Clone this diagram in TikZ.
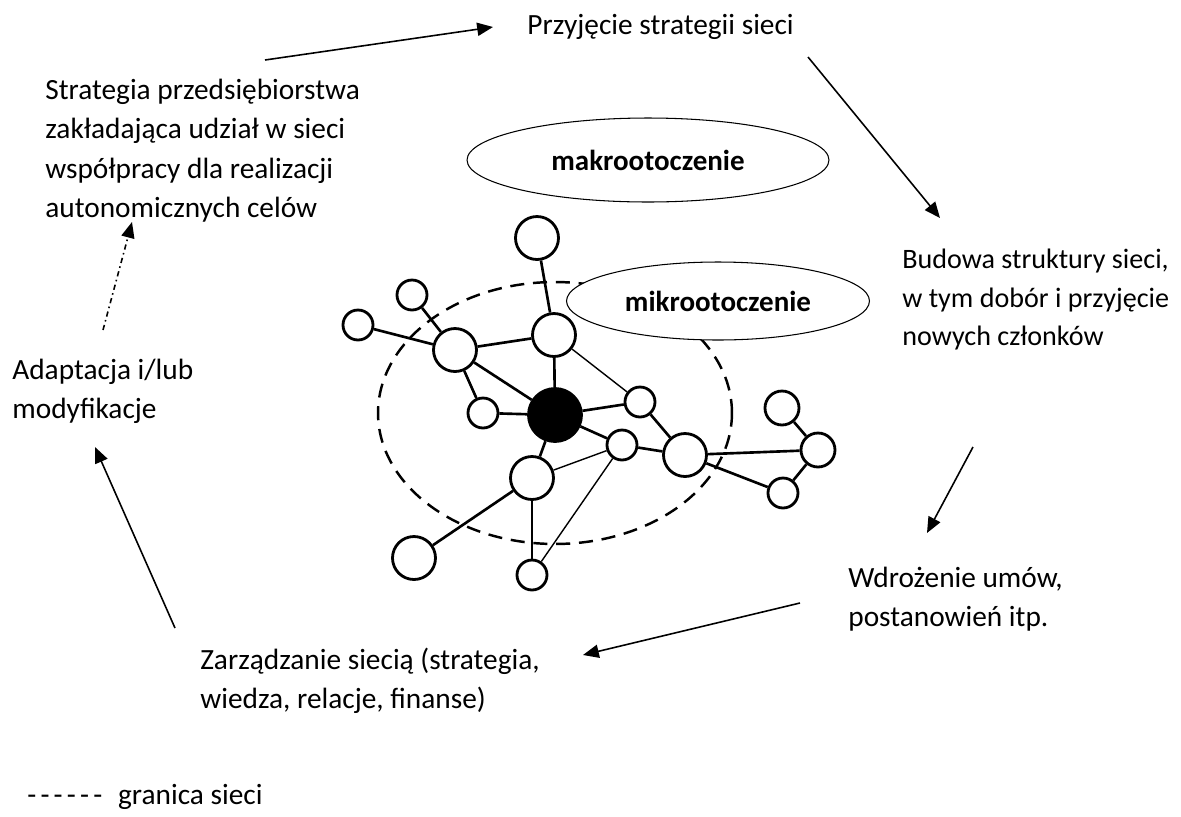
\documentclass[tikz,border=0pt]{standalone}
\usepackage{fontspec}
\setmainfont{Carlito}
\usetikzlibrary{arrows.meta,shapes.geometric}

\tikzset{
    txt/.style={anchor=north west, align=left, inner sep=0pt, font=\fontsize{16.7}{22.3}\selectfont},
    env/.style={ellipse, draw, fill=white, line width=0.6pt, inner sep=0pt, font=\fontsize{16.5}{18}\selectfont\bfseries},
    bigc/.style={circle, draw, line width=1.6pt, fill=white, minimum size=0.86cm, inner sep=0pt},
    midc/.style={circle, draw, line width=1.6pt, fill=white, minimum size=0.68cm, inner sep=0pt},
    smallc/.style={circle, draw, line width=1.6pt, fill=white, minimum size=0.6cm, inner sep=0pt},
    hubc/.style={circle, draw, line width=1.6pt, fill=black, minimum size=1.06cm, inner sep=0pt},
    tie/.style={line width=1.5pt},
    thintie/.style={line width=0.8pt},
    flow/.style={-{Triangle[length=9pt,width=7.5pt]}, line width=0.9pt},
    border/.style={line width=1.4pt, dash pattern=on 8pt off 5pt}
}

\begin{document}
\begin{tikzpicture}[x=0.02cm, y=-0.02cm]
    \useasboundingbox (0,0) rectangle (1181,816);

    % granica sieci
    \draw[border] (555,413) ellipse[x radius = 3.54cm, y radius = 2.62cm];

    % otoczenie
    \node[env, minimum width=7.24cm, minimum height=1.68cm] (makro) at (648,160) {makrootoczenie};
    \node[env, minimum width=6.06cm, minimum height=1.56cm] (mikro) at (718,301) {mikrootoczenie};

    % siec
    \node[hubc] (hub) at (555,415) {};
    \node[bigc] (n1) at (537,238) {};
    \node[smallc] (n2) at (412,295) {};
    \node[smallc] (n3) at (358,325) {};
    \node[bigc] (n4) at (455,350) {};
    \node[bigc] (n5) at (554,335) {};
    \node[smallc] (n6) at (483,413) {};
    \node[smallc] (n7) at (640,402) {};
    \node[smallc] (n8) at (622,445) {};
    \node[bigc] (n9) at (532,478) {};
    \node[bigc] (n10) at (685,455) {};
    \node[bigc] (n11) at (414,558) {};
    \node[smallc] (n12) at (532,575) {};
    \node[midc] (n13) at (782,408) {};
    \node[midc] (n14) at (818,450) {};
    \node[smallc] (n15) at (783,493) {};

    \draw[tie] (n1) -- (n5);
    \draw[tie] (n2) -- (n4);
    \draw[tie] (n3) -- (n4);
    \draw[tie] (n4) -- (n5);
    \draw[tie] (n4) -- (hub);
    \draw[tie] (n4) -- (n6);
    \draw[tie] (n6) -- (hub);
    \draw[tie] (n5) -- (hub);
    \draw[thintie] (n5) -- (n7);
    \draw[tie] (hub) -- (n7);
    \draw[tie] (hub) -- (n8);
    \draw[tie] (hub) -- (n9);
    \draw[tie] (n7) -- (n10);
    \draw[tie] (n8) -- (n10);
    \draw[thintie] (n9) -- (n8);
    \draw[thintie] (n12) -- (n8);
    \draw[tie] (n9) -- (n12);
    \draw[tie] (n9) -- (n11);
    \draw[tie] (n10) -- (n14);
    \draw[tie] (n10) -- (n15);
    \draw[tie] (n13) -- (n14);
    \draw[tie] (n14) -- (n15);

    % etapy
    \node[txt] (przyjecie) at (527,14) {Przyjęcie strategii sieci};
    \node[txt] (strategia) at (45,79) {Strategia przedsiębiorstwa\\zakładająca udział w sieci\\współpracy dla realizacji\\autonomicznych celów};
    \node[txt, font=\fontsize{16}{21.8}\selectfont] (budowa) at (902,249) {Budowa struktury sieci,\\w tym dobór i przyjęcie\\nowych członków};
    \node[txt] (wdrozenie) at (848,567) {Wdrożenie umów,\\postanowień itp.};
    \node[txt] (zarzadzanie) at (200,648) {Zarządzanie siecią (strategia,\\wiedza, relacje, finanse)};
    \node[txt] (adaptacja) at (12,359) {Adaptacja i/lub\\modyfikacje};
    \node[txt] (legenda) at (27,784) {{-}\hspace{2.4pt}{-}\hspace{2.4pt}{-}\hspace{2.4pt}{-}\hspace{2.4pt}{-}\hspace{2.4pt}{-}\hspace{9pt}granica sieci};

    \coordinate (a1s) at (265,60);   \coordinate (a1e) at (493,27);
    \coordinate (a2s) at (808,57);   \coordinate (a2e) at (940,218);
    \coordinate (a3s) at (973,447);  \coordinate (a3e) at (927,533);
    \coordinate (a4s) at (800,603);  \coordinate (a4e) at (583,655);
    \coordinate (a5s) at (175,628);  \coordinate (a5e) at (95,447);
    \coordinate (a6s) at (103,330);  \coordinate (a6e) at (132,222);

    \draw[flow] (a1s) -- (a1e);
    \draw[flow] (a2s) -- (a2e);
    \draw[flow] (a3s) -- (a3e);
    \draw[flow] (a4s) -- (a4e);
    \draw[flow] (a5s) -- (a5e);
    \draw[flow, dash dot] (a6s) -- (a6e);
\end{tikzpicture}
\end{document}
